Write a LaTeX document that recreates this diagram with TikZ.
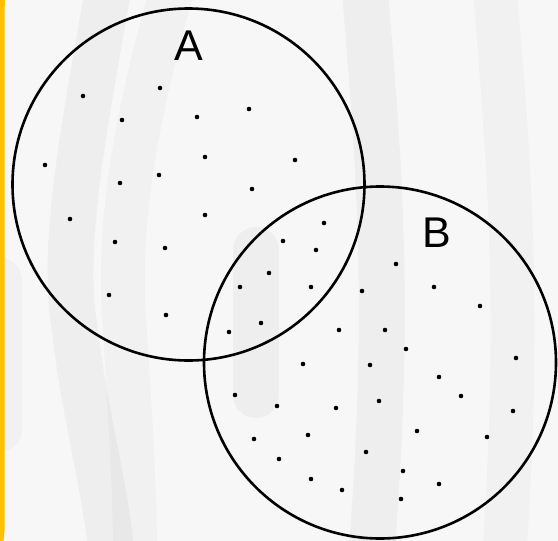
\documentclass[tikz,border=0pt]{standalone}
\usepackage{fontspec}
\setmainfont{Liberation Sans}
\begin{document}
\begin{tikzpicture}[x=1pt,y=-1pt,
  band/.style={line width=46pt, draw=black, draw opacity=0.035},
  bandlight/.style={line width=44pt, draw=black, draw opacity=0.022},
  setcircle/.style={circle, draw=black, line width=2.6pt, minimum size=352pt, inner sep=0pt},
  dotpt/.style={circle, fill=black, minimum size=4.6pt, inner sep=0pt},
  setlabel/.style={inner sep=0pt, anchor=base, font=\fontsize{43}{43}\selectfont}]
\useasboundingbox (0,0) rectangle (558,541);
\fill[fill={rgb,255:red,247;green,247;blue,247}] (0,0) rectangle (558,541);
% faint background bands
\begin{scope}
\clip (0,0) rectangle (558,541);
\draw[band] (110,-20) .. controls (85,120) and (60,250) .. (75,330) .. controls (85,420) and (105,480) .. (112,560);
\draw[bandlight] (175,-20) .. controls (140,100) and (115,220) .. (125,330) .. controls (130,420) and (135,480) .. (135,560);
\draw[bandlight, line cap=round] (0,280) -- (0,430);
\draw[band, line cap=round] (256,250) -- (256,395);
\draw[band] (364,-20) .. controls (378,150) and (392,300) .. (371,560);
\draw[bandlight] (494,-20) .. controls (508,150) and (522,300) .. (504,560);
\end{scope}
% yellow edge
\fill[fill={rgb,255:red,255;green,192;blue,0}] (0,0) -- (5,0) -- (4.5,12) -- (4.5,530) -- (3.5,541) -- (0,541) -- cycle;
% sets
\node[setcircle] (A) at (188.5,184.5) {};
\node[setcircle] (B) at (380,362.5) {};
\node[setlabel] (labA) at (189,60) {A};
\node[setlabel] (labB) at (437,247) {B};
% dots
\foreach \px/\py [count=\i] in {
 83/96, 160/88, 122/120, 197/117, 249/109, 45/165, 205/157, 120/183, 159/175, 252/189,
 70/219, 205/215, 115/242, 165/248, 295/160, 324/223, 283/241, 316/250, 396/264,
 109/295, 166/315, 269/273, 240/287, 261/323, 229/332, 235/395, 277/406, 254/439, 279/459,
 311/287, 362/291, 434/287, 480/306, 339/330, 385/330, 406/349, 516/358, 303/364, 370/365,
 439/377, 461/396, 336/408, 379/401, 513/411, 417/431, 308/435, 487/437, 366/452, 403/471,
 311/479, 439/484, 342/490, 401/499}
 \node[dotpt] (d\i) at (\px,\py) {};
\end{tikzpicture}
\end{document}
